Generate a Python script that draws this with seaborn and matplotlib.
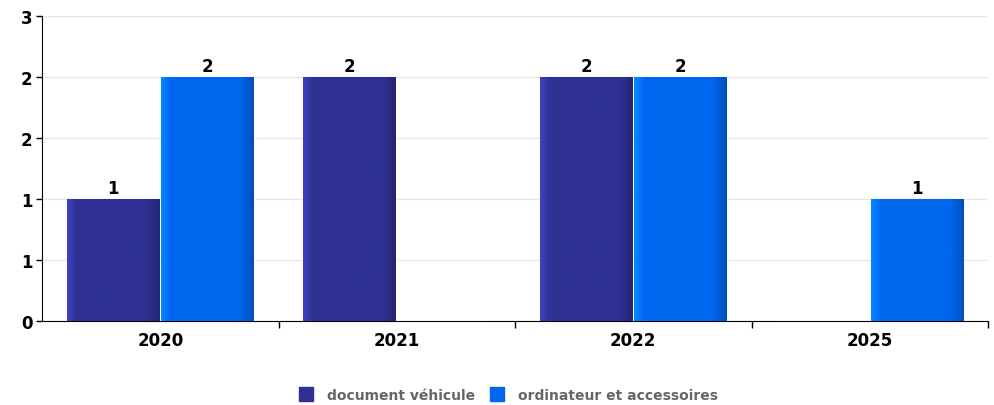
import numpy as np
import pandas as pd
import seaborn as sns
import matplotlib.pyplot as plt
from matplotlib.colors import to_rgb

years = ["2020", "2021", "2022", "2025"]
doc_vehicule = [1, 2, 2, 0]
ordinateur = [2, 0, 2, 1]
series = ["document véhicule", "ordinateur et accessoires"]
colors = ["#2e3192", "#0066ee"]
y_ticks = [0, 0.5, 1, 1.5, 2, 2.5]
y_labels = ["0", "1", "1", "2", "2", "3"]

df = pd.DataFrame({
    "annee": years * 2,
    "valeur": doc_vehicule + ordinateur,
    "serie": [series[0]] * len(years) + [series[1]] * len(years),
})

sns.set_style("white")
plt.rcParams["font.family"] = ["DejaVu Sans"]

fig = plt.figure(figsize=(9.94, 4.06), dpi=100)
ax = fig.add_axes([0.0423, 0.207, 0.9517, 0.751])

sns.barplot(data=df, x="annee", y="valeur", hue="serie", palette=colors,
            width=0.8, saturation=1, ax=ax, legend=False, zorder=3)

# fake the shaded look of the original bars
for patch in ax.patches:
    h = patch.get_height()
    if h <= 0:
        continue
    x0 = patch.get_x()
    w = patch.get_width()
    # leave a small gap between neighbouring bars
    patch.set_x(x0 + w * 0.01)
    patch.set_width(w * 0.98)
    x0 = patch.get_x()
    w = patch.get_width()
    base = np.array(to_rgb(patch.get_facecolor()))
    t = np.linspace(0, 1, 200)
    shade = np.ones_like(t)
    left = t < 0.1
    shade[left] = 1.35 - 3.5 * t[left]
    right = t > 0.86
    shade[right] = 1.0 - (t[right] - 0.86) * 1.6
    img = np.clip(base[None, :] * shade[:, None], 0, 1)[None, :, :]
    im = ax.imshow(img, extent=[x0, x0 + w, 0, h], aspect="auto", zorder=4,
                   interpolation="bilinear")
    im.set_clip_path(patch)
    ax.text(x0 + w / 2, h + 0.015, f"{h:g}", ha="center", va="bottom",
            fontsize=12, fontweight="bold", color="black", zorder=5)

ax.set_xlim(-0.5, len(years) - 0.5)
ax.set_ylim(0, 2.5)
ax.set_yticks(y_ticks)
ax.set_yticklabels(y_labels, fontsize=12, fontweight="bold", color="black")
ax.set_xticks(range(len(years)))
ax.set_xticklabels(years, fontsize=12, fontweight="bold", color="black")
ax.set_xticks(np.arange(0.5, len(years), 1), minor=True)
ax.tick_params(axis="x", which="major", length=0, pad=7)
ax.tick_params(axis="x", which="minor", bottom=True, length=5, width=1,
               color="black", direction="out")
ax.tick_params(axis="y", left=True, length=4, width=1, color="black",
               direction="out", pad=3)
ax.set_xlabel("")
ax.set_ylabel("")

ax.yaxis.grid(True, color="#e6e6e6", linewidth=1, zorder=0)
ax.set_axisbelow(True)
for s in ["top", "right"]:
    ax.spines[s].set_visible(False)
ax.spines["left"].set_color("black")
ax.spines["bottom"].set_color("black")

handles = [plt.Line2D([], [], marker="s", linestyle="", markersize=9.5,
                      markerfacecolor=c, markeredgecolor=c) for c in colors]
leg = fig.legend(handles, series, loc="center", bbox_to_anchor=(0.508, 0.025),
                 ncol=2, frameon=False, handletextpad=0.5, columnspacing=0.6,
                 prop={"size": 10, "weight": "bold"})
for txt in leg.get_texts():
    txt.set_color("#666666")

fig.savefig("out.png", dpi=100)
